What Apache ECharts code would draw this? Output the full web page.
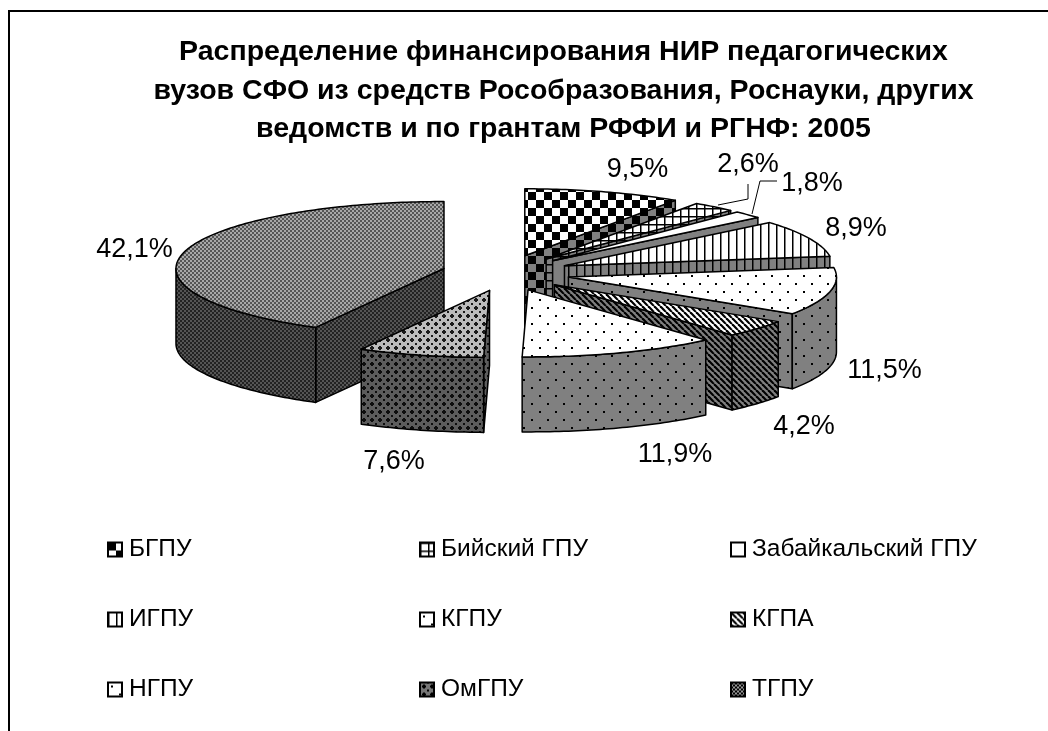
<!DOCTYPE html>
<html><head><meta charset="utf-8">
<style>html,body{margin:0;padding:0;background:#fff}#c{width:1048px;height:731px}</style>
<script src="https://cdn.jsdelivr.net/npm/echarts@6/dist/echarts.min.js"></script>
</head><body><div id="c"></div>
<script>
const categories = ['БГПУ','Бийский ГПУ','Забайкальский ГПУ','ИГПУ','КГПУ','КГПА','НГПУ','ОмГПУ','ТГПУ'];
const values = [9.5,2.6,1.8,8.9,11.5,4.2,11.9,7.6,42.1];
const valueLabels = ['9,5%','2,6%','1,8%','8,9%','11,5%','4,2%','11,9%','7,6%','42,1%'];
const titleLines = ['Распределение финансирования НИР педагогических','вузов СФО из средств Рособразования, Роснауки, других','ведомств и по грантам РФФИ и РГНФ: 2005'];
const patternNames = ['check','grid','plain','vlines','dots','diag','dots','diamond','fine'];

const FONT = '"Liberation Sans", Arial, sans-serif';
const geo = {cx:506, cy:273, rx:268, ry:67, h:75, ex:64, ey:18};
const labelPos = [[637.5,170],[748,165],[812,184],[856,229],[884.5,371],[804,427],[675,455],[394,462],[134.5,250]];

function tile(name, fg, bg){
  const S = {check:16, grid:8, plain:4, vlines:8, dots:16, diag:6, diamond:8, fine:4}[name];
  const c = document.createElement('canvas'); c.width = S; c.height = S;
  const g = c.getContext('2d');
  g.fillStyle = bg; g.fillRect(0,0,S,S); g.fillStyle = fg;
  if(name==='check'){ g.fillRect(0,0,8,8); g.fillRect(8,8,8,8); }
  if(name==='grid'){ g.fillRect(0,0,8,1.5); g.fillRect(0,0,1.5,8); }
  if(name==='vlines'){ g.fillRect(0,0,1.5,8); }
  if(name==='dots'){ g.fillRect(3,3,2,2); g.fillRect(11,11,2,2); }
  if(name==='fine'){ g.fillRect(0,0,2,2); g.fillRect(2,2,2,2); }
  if(name==='diag'){
    g.strokeStyle = fg; g.lineWidth = 2.2;
    [-6,0,6].forEach(o=>{ g.beginPath(); g.moveTo(o,0); g.lineTo(o+6,6); g.stroke(); });
  }
  if(name==='diamond'){
    g.fillRect(3,2,2,4); g.fillRect(2,3,4,2);
    g.fillRect(0,0,1,1); g.fillRect(7,7,1,1); g.fillRect(7,0,1,1); g.fillRect(0,7,1,1);
  }
  return {image:c, repeat:'repeat'};
}
const topColors = {check:['#000','#fff'],grid:['#000','#fff'],plain:['#000','#fff'],vlines:['#000','#fff'],dots:['#000','#fff'],diag:['#000','#fff'],diamond:['#1a1a1a','#bcbcbc'],fine:['#555','#a8a8a8']};
const wallColors = {check:['#000','#808080'],grid:['#000','#808080'],plain:['#000','#808080'],vlines:['#000','#808080'],dots:['#000','#808080'],diag:['#000','#808080'],diamond:['#0d0d0d','#5c5c5c'],fine:['#222','#555']};

const total = values.reduce((a,b)=>a+b,0);
const rad = d => d*Math.PI/180;
const starts = []; values.reduce((acc,v,i)=>{starts[i]=acc; return acc+v;},0);

function sliceShapes(i){
  const a0 = starts[i]/total*360, a1 = (starts[i]+values[i])/total*360, mid=(a0+a1)/2;
  const ax = geo.cx + geo.ex*Math.sin(rad(mid)), ay = geo.cy - geo.ey*Math.cos(rad(mid));
  const pt = a => [ax+geo.rx*Math.sin(rad(a)), ay-geo.ry*Math.cos(rad(a))];
  const arc = (s,e)=>{const p=[]; const n=Math.max(2,Math.ceil(e-s)); for(let k=0;k<=n;k++)p.push(pt(s+(e-s)*k/n)); return p;};
  const drop = p => [p[0],p[1]+geo.h];
  const walls = [];
  if(a0>=180) { const e=pt(a0); walls.push([[ax,ay],e,drop(e),[ax,ay+geo.h]]); }
  if(a1<=180 && a1>0) { const e=pt(a1); walls.push([[ax,ay],e,drop(e),[ax,ay+geo.h]]); }
  const s=Math.max(a0,90), e=Math.min(a1,270);
  if(e>s){ const t=arc(s,e); walls.push(t.concat(t.map(drop).reverse())); }
  return {top:[[ax,ay]].concat(arc(a0,a1)), walls};
}

function makeRender(i){
  const name = patternNames[i];
  const topFill = tile(name, topColors[name][0], topColors[name][1]);
  const wallFill = tile(name, wallColors[name][0], wallColors[name][1]);
  return function(){
    const sh = sliceShapes(i);
    const kids = sh.walls.map(points=>({type:'polygon',shape:{points},style:{fill:wallFill,stroke:'#000',lineWidth:1.5,lineJoin:'round'}}));
    kids.push({type:'polygon',shape:{points:sh.top},style:{fill:topFill,stroke:'#000',lineWidth:1.5,lineJoin:'round'}});
    return {type:'group',children:kids};
  };
}

const drawOrder = [8,7,0,1,2,3,4,5,6];
const series = drawOrder.map((i,o)=>({
  type:'custom', name:categories[i], coordinateSystem:'none', z:2+o, silent:true, clip:false,
  data:[[values[i]]], renderItem:makeRender(i), animation:false,
  itemStyle:{color:'#000'}
}));
series.push({
  type:'custom', name:'labels', coordinateSystem:'none', z:30, silent:true, animation:false,
  data:valueLabels.map((t,i)=>[i]),
  renderItem:(p,api)=>{const i=api.value(0);return {type:'text',x:labelPos[i][0],y:labelPos[i][1],
    style:{text:valueLabels[i],fill:'#000',font:'27px '+FONT,textAlign:'center',textVerticalAlign:'middle'}};}
});

const legendStyle = name => ({color:tile(name,'#000', name==='fine'?'#999':(name==='diamond'?'#777':'#fff')),borderColor:'#000',borderWidth:2});
const mkLegend = (left,idx)=>({
  left, top:537, orient:'vertical', padding:0, itemGap:45, itemWidth:14, itemHeight:14, selectedMode:false,
  icon:'rect', textStyle:{fontFamily:FONT,fontSize:24.5,lineHeight:14,color:'#000',padding:[0,0,0,2]},
  data:idx.map(i=>({name:categories[i],icon:'rect',itemStyle:legendStyle(patternNames[i])}))
});

const chart = echarts.init(document.getElementById('c'),null,{width:1048,height:731});
chart.setOption({
  animation:false, backgroundColor:'#fff',
  title:{text:titleLines.join('\n'),left:558.5,top:28,textAlign:'center',
    textStyle:{fontFamily:FONT,fontSize:28.5,fontWeight:'bold',color:'#000',lineHeight:38.5}},
  legend:[mkLegend(107,[0,3,6]),mkLegend(419,[1,4,7]),mkLegend(730,[2,5,8])],
  series,
  graphic:[
    {type:'polyline',shape:{points:[[9,740],[9,11],[1060,11]]},style:{stroke:'#000',lineWidth:2,fill:'none'},z:0,silent:true},
    {type:'polyline',shape:{points:[[718,205],[748,199],[748,184]]},style:{stroke:'#000',lineWidth:1,fill:'none'},z:40,silent:true},
    {type:'polyline',shape:{points:[[752,214],[760,181],[777,181]]},style:{stroke:'#000',lineWidth:1,fill:'none'},z:40,silent:true}
  ]
});
</script></body></html>
